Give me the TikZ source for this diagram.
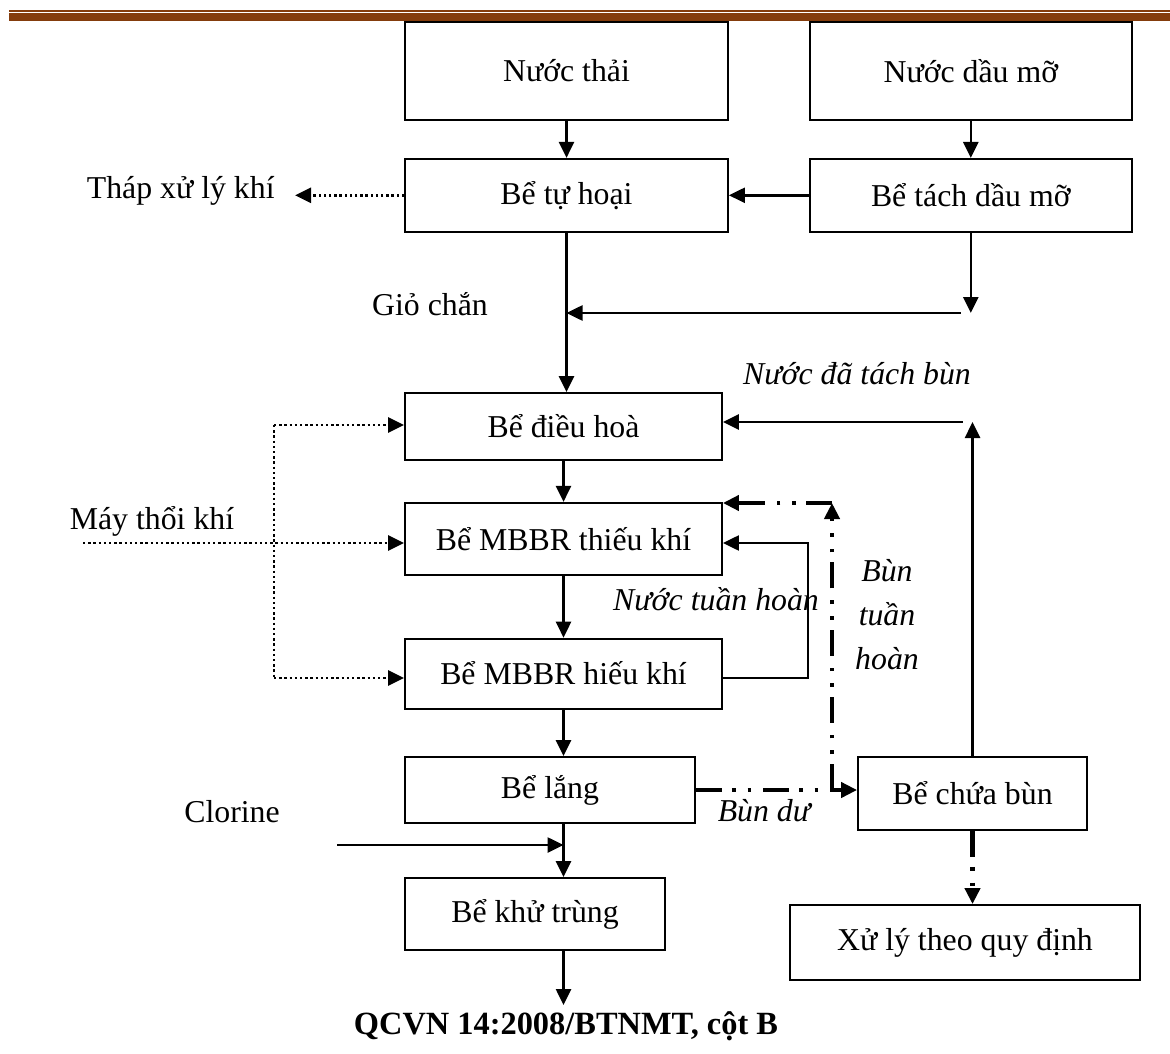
\documentclass[tikz,border=0pt]{standalone}
\usepackage{fontspec}
\setmainfont{Liberation Serif}
\usetikzlibrary{arrows.meta,positioning}
\definecolor{headerbrown}{RGB}{132,60,12}
\newcommand{\flowfont}{\fontsize{15.9}{22}\selectfont}

\begin{document}
\begin{tikzpicture}[
      x=0.5pt,y=-0.5pt,
      mybox/.style={
         rectangle,
         draw=black,
         line width=0.9pt,
         inner sep=0pt,
         font=\flowfont},
      mytext/.style={inner sep=0pt, font=\flowfont},
      myarrow/.style={line width=1.3pt,-{Triangle[length=8pt,width=7.5pt]}},
      airline/.style={line width=1.4pt, dash pattern=on 1.2pt off 1.4pt},
      airarrow/.style={airline,-{Triangle[length=8pt,width=7.5pt]}},
      sludgeline/.style={line width=2.3pt, dash pattern=on 13pt off 5pt on 1.8pt off 6pt on 1.8pt off 6pt},
      sludgearrow/.style={sludgeline,-{Triangle[length=8pt,width=7.5pt]}},
      node distance=18.5pt and 40pt
      ]
      \useasboundingbox (0,0) rectangle (1170,1053);

      % header rule
      \draw[headerbrown, line width=1pt] (9,11) -- (1170,11);
      \draw[headerbrown, line width=4pt] (9,17) -- (1170,17);

      % boxes
      \node[mybox, minimum width=161.5pt, minimum height=49pt] (nuocthai) at (566.5,71) {Nước thải};
      \node[mybox, minimum width=161pt, minimum height=49pt, right=of nuocthai] (nuocdau) {Nước dầu mỡ};
      \node[mybox, minimum width=161.5pt, minimum height=36.5pt, below=of nuocthai] (tuhoai) {Bể tự hoại};
      \node[mybox, minimum width=161pt, minimum height=36.5pt, below=of nuocdau] (tachdau) {Bể tách dầu mỡ};
      \node[mybox, minimum width=158.5pt, minimum height=33.5pt] (dieuhoa) at (563.5,426.5) {Bể điều hoà};
      \node[mybox, minimum width=158.5pt, minimum height=36pt, below=20.5pt of dieuhoa] (thieukhi) {Bể MBBR thiếu khí};
      \node[mybox, minimum width=158.5pt, minimum height=35pt, below=31pt of thieukhi] (hieukhi) {Bể MBBR hiếu khí};
      \node[mybox, minimum width=145pt, minimum height=33pt] (lang) at (550,790) {Bể lắng};
      \node[mybox, minimum width=130pt, minimum height=36pt] (khutrung) at (535,914) {Bể khử trùng};
      \node[mybox, minimum width=114.5pt, minimum height=36.5pt] (chuabun) at (972.5,793.5) {Bể chứa bùn};
      \node[mybox, minimum width=175pt, minimum height=37.5pt] (xuly) at (965,942.5) {Xử lý theo quy định};

      % side texts
      \node[mytext, anchor=east, inner xsep=10pt] (thap) at (295,191) {Tháp xử lý khí};
      \node[mytext] (gio) at (430,304) {Giỏ chắn};
      \node[mytext, font=\flowfont\itshape] (tachbun) at (857,374) {Nước đã tách bùn};
      \node[mytext] (maythoi) at (152,521) {Máy thổi khí};
      \node[mytext, font=\flowfont\itshape] (tuanhoan) at (716,599) {Nước tuần hoàn};
      \node[mytext, font=\flowfont\itshape, align=center] (buntuanhoan) at (887,615) {Bùn\\tuần\\hoàn};
      \node[mytext, font=\flowfont\itshape] (bundu) at (764,811) {Bùn dư};
      \node[mytext] (clorine) at (232,812) {Clorine};
      \node[mytext, inner sep=3pt, font=\fontsize{16.2}{20}\selectfont\bfseries] (qcvn) at (566,1026) {QCVN 14:2008/BTNMT, cột B};

      % turning points
      \coordinate (oilturn) at (969,313);
      \coordinate (retturn) at (972,422);
      \coordinate (airstart) at (83,543);
      \coordinate (airtop) at (274,425);
      \coordinate (airbot) at (274,678);
      \coordinate (recA) at (808,678);
      \coordinate (recB) at (808,543);
      \coordinate (split) at (832,790);
      \coordinate (turn) at (832,503);
      \coordinate (clstart) at (337,845);

      \foreach \i/\j in {% start node/end node
        nuocthai/tuhoai,
        nuocdau/tachdau,
        tachdau/tuhoai,
        dieuhoa/thieukhi,
        thieukhi/hieukhi}
        \draw[myarrow] (\i) -- (\j);

      \draw[myarrow] (tuhoai.south) -- (tuhoai.south |- dieuhoa.north);
      \draw[myarrow] (tachdau.south) -- (tachdau.south |- oilturn);
      \draw[myarrow] ([xshift=-5pt]tachdau.south |- oilturn) -- (tuhoai.south |- oilturn);
      \draw[airarrow] (tuhoai.west) -- (tuhoai.west -| thap.east);

      % air supply
      \draw[airarrow] (airstart) -- (thieukhi.west |- airstart);
      \draw[airline] (airtop) -- (airbot);
      \draw[airarrow] (airtop) -- (dieuhoa.west |- airtop);
      \draw[airarrow] (airbot) -- (hieukhi.west |- airbot);

      % recirculation
      \draw[myarrow, line width=1.1pt] (hieukhi.east |- recA) -- (recA) -- (recB) -- (thieukhi.east |- recB);
      \draw[myarrow] (hieukhi.south) -- (hieukhi.south |- lang.north);
      \draw[myarrow] (hieukhi.south |- lang.south) -- (hieukhi.south |- khutrung.north);
      \draw[myarrow] (hieukhi.south |- khutrung.south) -- (hieukhi.south |- qcvn.north);
      \draw[myarrow] (clstart) -- (hieukhi.south |- clstart);

      % sludge
      \draw[sludgeline] (lang.east) -- (split);
      \draw[sludgearrow] (split) -- (turn);
      \draw[sludgearrow] (turn) -- (thieukhi.east |- turn);
      \draw[sludgearrow] (split) -- (chuabun.west |- split);
      \draw[sludgearrow] (chuabun.south) -- (chuabun.south |- xuly.north);
      \draw[myarrow] (chuabun.north) -- (chuabun.north |- retturn);
      \draw[myarrow] ([xshift=-5pt]chuabun.north |- retturn) -- (dieuhoa.east |- retturn);

    \end{tikzpicture}
\end{document}
